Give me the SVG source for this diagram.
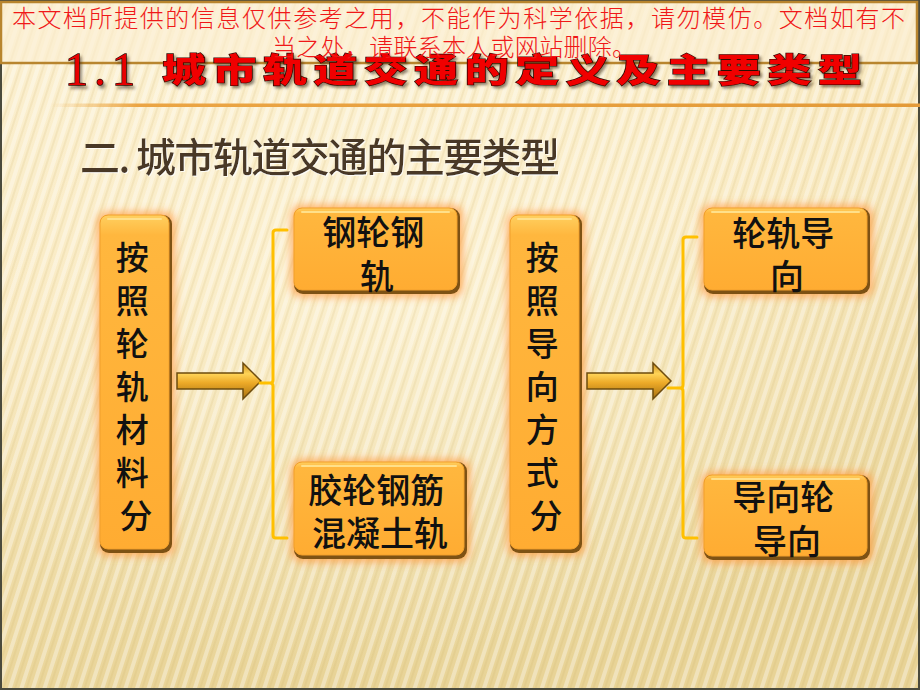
<svg xmlns="http://www.w3.org/2000/svg" width="920" height="690" viewBox="0 0 920 690">
<defs>
  <linearGradient id="bgGrad" x1="0" y1="0" x2="0.25" y2="1">
    <stop offset="0" stop-color="#FCF1D3"/>
    <stop offset="0.45" stop-color="#F8E8BE"/>
    <stop offset="1" stop-color="#E8D396"/>
  </linearGradient>
  <radialGradient id="bgSpot" cx="0.45" cy="0.45" r="0.55">
    <stop offset="0" stop-color="#FFF8E0" stop-opacity="0.55"/>
    <stop offset="1" stop-color="#FFF8E0" stop-opacity="0"/>
  </radialGradient>
  <pattern id="stripes" width="11" height="11" patternUnits="userSpaceOnUse" patternTransform="rotate(18)">
    <rect x="0" y="0" width="4" height="11" fill="#FFFFFF" opacity="0.35"/>
    <rect x="6" y="0" width="2" height="11" fill="#C9A860" opacity="0.14"/>
  </pattern>
  <linearGradient id="lineGrad" x1="0" y1="0" x2="1" y2="0">
    <stop offset="0" stop-color="#F0B050" stop-opacity="0"/>
    <stop offset="0.1" stop-color="#EBA544"/>
    <stop offset="1" stop-color="#E39A38"/>
  </linearGradient>
  <linearGradient id="boxGrad" x1="0" y1="0" x2="0" y2="1">
    <stop offset="0" stop-color="#FFD060"/>
    <stop offset="0.06" stop-color="#FFB73E"/>
    <stop offset="1" stop-color="#FFAC32"/>
  </linearGradient>
  <linearGradient id="arrowGrad" x1="0" y1="0" x2="0" y2="1">
    <stop offset="0" stop-color="#C88A1C"/>
    <stop offset="0.3" stop-color="#FFD458"/>
    <stop offset="0.55" stop-color="#EDAA28"/>
    <stop offset="1" stop-color="#A56F10"/>
  </linearGradient>
  <filter id="glow" x="-30%" y="-30%" width="160%" height="160%">
    <feGaussianBlur stdDeviation="4"/>
  </filter>
  <filter id="headShadow" x="-5%" y="-20%" width="110%" height="150%">
    <feDropShadow dx="2" dy="3" stdDeviation="1.5" flood-color="#3A2A10" flood-opacity="0.55"/>
  </filter>
  <filter id="titleShadow" x="-5%" y="-20%" width="110%" height="150%">
    <feDropShadow dx="1" dy="1" stdDeviation="0.6" flood-color="#FFFFFF" flood-opacity="0.8"/>
  </filter>
  <style>
    .wm { font-family: "Noto Sans CJK SC", sans-serif; font-weight: 300; font-size: 24px; fill: #F01818; }
    .node-text { font-family: "Noto Sans CJK SC", sans-serif; font-weight: 500; fill: #111111; text-anchor: middle; }
    .glow { fill: #FF9A40; opacity: 0.75; filter: url(#glow); }
    .box-dark { fill: #7E5214; }
    .box { fill: url(#boxGrad); stroke: #F2A02C; stroke-width: 1; }
    .bracket { fill: none; stroke: #FFC000; stroke-width: 3; stroke-linejoin: round; stroke-linecap: round; }
    .arrow { fill: url(#arrowGrad); stroke: #6E4C0E; stroke-width: 1.5; stroke-linejoin: miter; }
  </style>
</defs>

<g id="background">
  <rect x="0" y="0" width="920" height="690" fill="url(#bgGrad)"/>
  <rect x="0" y="0" width="920" height="690" fill="url(#bgSpot)"/>
  <rect x="0" y="0" width="920" height="690" fill="url(#stripes)"/>
  <rect x="1" y="1" width="918" height="688" fill="none" stroke="#4A4A3C" stroke-width="2"/>
</g>

<g id="header">
  <rect x="0" y="2" width="917" height="61" fill="#FBEFD2" opacity="0.6"/>
  <rect x="1" y="2" width="916" height="61" fill="none" stroke="#B8852E" stroke-width="2.5"/>
  <rect x="50" y="103.5" width="870" height="3.5" fill="url(#lineGrad)"/>
  <text x="65" y="85" font-family="Liberation Serif, serif" font-size="46" fill="#E80000" stroke="#2A0A00" stroke-width="1.4" paint-order="stroke" filter="url(#headShadow)" textLength="70" lengthAdjust="spacing">1.1</text>
  <text transform="translate(0,82) scale(1,0.76)" x="162" y="0" font-family="Noto Sans CJK SC, sans-serif" font-weight="900" font-size="44" fill="#F00000" stroke="#2A0A00" stroke-width="1.6" paint-order="stroke" filter="url(#headShadow)" textLength="700" lengthAdjust="spacing">城市轨道交通的定义及主要类型</text>
  <text class="wm" x="12" y="27" textLength="893" lengthAdjust="spacing">本文档所提供的信息仅供参考之用，不能作为科学依据，请勿模仿。文档如有不</text>
  <text class="wm" x="272" y="56" textLength="364" lengthAdjust="spacing">当之处，请联系本人或网站删除。</text>
</g>

<g id="title">
  <text x="80" y="172" font-family="Noto Sans CJK SC, sans-serif" font-weight="500" font-size="40" fill="#4A3828" filter="url(#titleShadow)" textLength="480" lengthAdjust="spacing">二. 城市轨道交通的主要类型</text>
</g>

<g id="node-material">
  <rect class="glow" x="97" y="212" width="78" height="344" rx="10"/>
  <rect class="box-dark" x="100" y="215" width="72" height="338" rx="9"/>
  <rect class="box" x="100" y="215" width="69" height="334" rx="8"/>
  <path d="M108,219 H161" stroke="#FFE08A" stroke-width="2" fill="none" stroke-linecap="round"/>
  <text class="node-text" font-size="33">
    <tspan x="136" y="270">按</tspan>
    <tspan x="136" y="313">照</tspan>
    <tspan x="136" y="356">轮</tspan>
    <tspan x="136" y="399">轨</tspan>
    <tspan x="136" y="442">材</tspan>
    <tspan x="136" y="485">料</tspan>
    <tspan x="136" y="528">分</tspan>
  </text>
</g>

<g id="node-steel">
  <rect class="glow" x="291" y="205" width="172" height="92" rx="10"/>
  <rect class="box-dark" x="294" y="208" width="166" height="86" rx="9"/>
  <rect class="box" x="294" y="208" width="163" height="82" rx="8"/>
  <path d="M302,212 H449" stroke="#FFE08A" stroke-width="2" fill="none" stroke-linecap="round"/>
  <text class="node-text" font-size="34">
    <tspan x="377" y="245">钢轮钢</tspan>
    <tspan x="377" y="289">轨</tspan>
  </text>
</g>

<g id="node-rubber">
  <rect class="glow" x="291" y="459" width="179" height="103" rx="10"/>
  <rect class="box-dark" x="294" y="462" width="173" height="97" rx="9"/>
  <rect class="box" x="294" y="462" width="170" height="93" rx="8"/>
  <path d="M302,466 H456" stroke="#FFE08A" stroke-width="2" fill="none" stroke-linecap="round"/>
  <text class="node-text" font-size="34">
    <tspan x="380" y="503">胶轮钢筋</tspan>
    <tspan x="380" y="546">混凝土轨</tspan>
  </text>
</g>

<g id="node-guidance">
  <rect class="glow" x="507" y="212" width="78" height="344" rx="10"/>
  <rect class="box-dark" x="510" y="215" width="72" height="338" rx="9"/>
  <rect class="box" x="510" y="215" width="69" height="334" rx="8"/>
  <path d="M518,219 H571" stroke="#FFE08A" stroke-width="2" fill="none" stroke-linecap="round"/>
  <text class="node-text" font-size="33">
    <tspan x="546" y="270">按</tspan>
    <tspan x="546" y="313">照</tspan>
    <tspan x="546" y="356">导</tspan>
    <tspan x="546" y="399">向</tspan>
    <tspan x="546" y="442">方</tspan>
    <tspan x="546" y="485">式</tspan>
    <tspan x="546" y="528">分</tspan>
  </text>
</g>

<g id="node-rail-guide">
  <rect class="glow" x="701" y="205" width="172" height="92" rx="10"/>
  <rect class="box-dark" x="704" y="208" width="166" height="86" rx="9"/>
  <rect class="box" x="704" y="208" width="163" height="82" rx="8"/>
  <path d="M712,212 H859" stroke="#FFE08A" stroke-width="2" fill="none" stroke-linecap="round"/>
  <text class="node-text" font-size="34">
    <tspan x="787" y="246">轮轨导</tspan>
    <tspan x="787" y="289">向</tspan>
  </text>
</g>

<g id="node-wheel-guide">
  <rect class="glow" x="701" y="472" width="172" height="91" rx="10"/>
  <rect class="box-dark" x="704" y="475" width="166" height="85" rx="9"/>
  <rect class="box" x="704" y="475" width="163" height="81" rx="8"/>
  <path d="M712,479 H859" stroke="#FFE08A" stroke-width="2" fill="none" stroke-linecap="round"/>
  <text class="node-text" font-size="34">
    <tspan x="787" y="510">导向轮</tspan>
    <tspan x="787" y="554">导向</tspan>
  </text>
</g>

<g id="connectors">
  <polygon class="arrow" points="177,373 243,373 243,363 261,381 243,399 243,389 177,389"/>
  <path class="bracket" d="M287,230 H276 Q273,230 273,233 V380 Q273,383 270,383 H260 M270,383 Q273,383 273,386 V535 Q273,538 276,538 H287"/>
  <polygon class="arrow" points="587,373 653,373 653,363 671,381 653,399 653,389 587,389"/>
  <path class="bracket" d="M697,237 H686 Q683,237 683,240 V385 Q683,388 680,388 H668 M680,388 Q683,388 683,391 V535 Q683,538 686,538 H697"/>
</g>
</svg>
